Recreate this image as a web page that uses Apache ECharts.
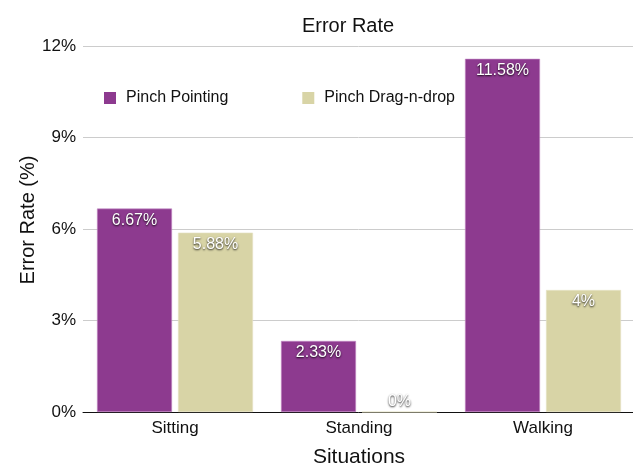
<!DOCTYPE html>
<html>
<head>
<meta charset="utf-8">
<script src="https://cdn.jsdelivr.net/npm/echarts@6/dist/echarts.min.js"></script>
<style>
  html, body { margin: 0; padding: 0; background: #fff; }
  #chart { width: 633px; height: 465px; }
</style>
</head>
<body>
<div id="chart"></div>
<script>
const categories = ['Sitting', 'Standing', 'Walking'];
const pointingValues = [6.67, 2.33, 11.58];
const dragDropValues = [5.88, 0, 4];
const seriesNames = ['Pinch Pointing', 'Pinch Drag-n-drop'];

const FONT = '"Liberation Sans", Arial, Helvetica, sans-serif';

const valueLabel = {
  show: true,
  position: 'insideTop',
  distance: 4,
  color: '#fff',
  fontFamily: FONT,
  fontSize: 16,
  textShadowColor: 'rgba(0,0,0,0.9)',
  textShadowBlur: 2,
  textShadowOffsetX: 0,
  textShadowOffsetY: 1,
  formatter: p => p.value + '%'
};

// zero-height bars show their label just above the axis
function toData(values) {
  return values.map(v => v === 0
    ? { value: v, label: { position: 'top', distance: 2 } }
    : v);
}

const chart = echarts.init(document.getElementById('chart'), null, { renderer: 'canvas' });
chart.setOption({
  animation: false,
  textStyle: { fontFamily: FONT },
  title: {
    text: 'Error Rate',
    left: 348,
    textAlign: 'center',
    top: 16,
    padding: 0,
    textStyle: { fontFamily: FONT, fontSize: 20, fontWeight: 'normal', color: '#111' }
  },
  legend: {
    left: 104,
    top: 90,
    padding: 0,
    icon: 'rect',
    itemWidth: 12,
    itemHeight: 12,
    itemGap: 74,
    itemStyle: { borderWidth: 0 },
    textStyle: { fontFamily: FONT, fontSize: 16, color: '#111', padding: [0, 0, 0, 5] },
    data: seriesNames
  },
  grid: { left: 83, right: -2, top: 46, bottom: 53, containLabel: false, outerBoundsMode: 'none' },
  xAxis: {
    type: 'category',
    data: categories,
    name: 'Situations',
    nameLocation: 'middle',
    nameGap: 35,
    nameMoveOverlap: false,
    nameTextStyle: { fontFamily: FONT, fontSize: 21, color: '#111' },
    axisLine: { lineStyle: { color: '#111', width: 1 } },
    axisTick: { show: false },
    axisLabel: { fontFamily: FONT, fontSize: 17, color: '#111', margin: 8 }
  },
  yAxis: {
    type: 'value',
    min: 0,
    max: 12,
    interval: 3,
    name: 'Error Rate (%)',
    nameLocation: 'middle',
    nameGap: 45,
    nameMoveOverlap: false,
    nameTextStyle: { fontFamily: FONT, fontSize: 20, color: '#111', padding: [0, 0, 0, 18] },
    axisLine: { show: false },
    axisTick: { show: false },
    axisLabel: { fontFamily: FONT, fontSize: 17, color: '#111', margin: 7, formatter: '{value}%' },
    splitLine: { lineStyle: { color: '#ccc', width: 1 } }
  },
  series: [
    {
      name: seriesNames[0],
      type: 'bar',
      data: toData(pointingValues),
      barWidth: 75,
      barGap: '8%',
      itemStyle: { color: '#8D3A8F', borderColor: '#C48CC6', borderWidth: 0.6 },
      label: valueLabel
    },
    {
      name: seriesNames[1],
      type: 'bar',
      data: toData(dragDropValues),
      barWidth: 75,
      barGap: '8%',
      itemStyle: { color: '#D8D4A6', borderColor: '#E6E2C4', borderWidth: 0.6 },
      label: valueLabel
    }
  ]
});
</script>
</body>
</html>
